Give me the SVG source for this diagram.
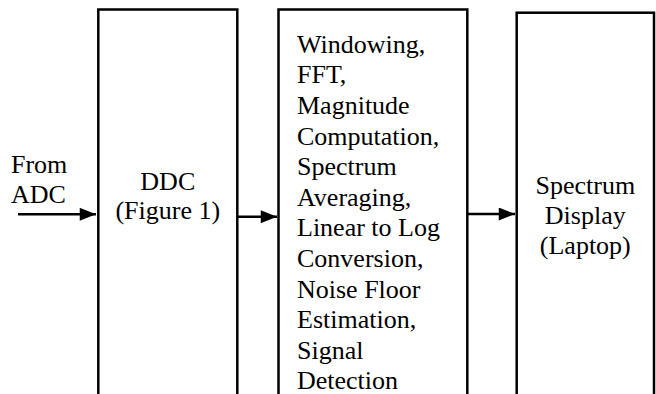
<svg xmlns="http://www.w3.org/2000/svg" width="656" height="394" viewBox="0 0 656 394">
<defs>
<style>
.box{fill:#fff;stroke:#000;stroke-width:2.5}
.c{text-anchor:middle}
.ln{stroke:#000;stroke-width:2.5;fill:none}
text{font-family:"Times New Roman",Times,"Liberation Serif","Noto Serif","DejaVu Serif",serif;font-size:26px;fill:#000}
</style>
<marker id="ah" viewBox="0 0 10 8" refX="10" refY="4" markerWidth="6.8" markerHeight="5.2" markerUnits="strokeWidth" orient="auto">
<path d="M0,0 L10,4 L0,8 Z" fill="#000"/>
</marker>
</defs>
<g id="input-label">
<text x="11" y="173">From</text>
<text x="11" y="203">ADC</text>
</g>
<g id="ddc">
<rect class="box" x="98.3" y="9.5" width="139" height="400"/>
<text class="c" x="167.8" y="190">DDC</text>
<text class="c" x="167.8" y="219">(Figure 1)</text>
</g>
<g id="processing">
<rect class="box" x="278.5" y="9.5" width="188.8" height="400"/>
<text x="297" y="52.7">Windowing,</text>
<text x="297" y="83.3">FFT,</text>
<text x="297" y="113.9">Magnitude</text>
<text x="297" y="144.5">Computation,</text>
<text x="297" y="175.1">Spectrum</text>
<text x="297" y="205.7">Averaging,</text>
<text x="297" y="236.3">Linear to Log</text>
<text x="297" y="266.9">Conversion,</text>
<text x="297" y="297.5">Noise Floor</text>
<text x="297" y="328.1">Estimation,</text>
<text x="297" y="358.7">Signal</text>
<text x="297" y="389.3">Detection</text>
</g>
<g id="display">
<rect class="box" x="516.7" y="12.7" width="137.3" height="400"/>
<text class="c" x="585.3" y="194">Spectrum</text>
<text class="c" x="585.3" y="224">Display</text>
<text class="c" x="585.3" y="254">(Laptop)</text>
</g>
<g id="connectors">
<line class="ln" x1="18" y1="214.3" x2="96" y2="214.3" marker-end="url(#ah)"/>
<line class="ln" x1="237.3" y1="216.7" x2="277" y2="216.7" marker-end="url(#ah)"/>
<line class="ln" x1="467.3" y1="214" x2="515" y2="214" marker-end="url(#ah)"/>
</g>
</svg>
